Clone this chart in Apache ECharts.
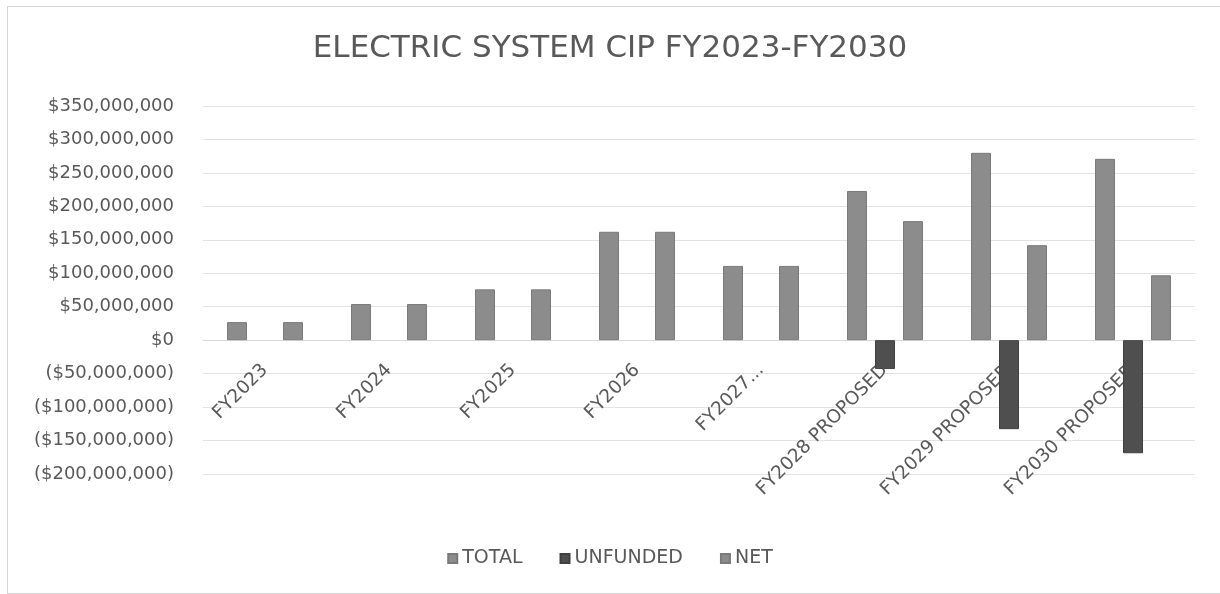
<!DOCTYPE html>
<html>
<head>
<meta charset="utf-8">
<script src="https://cdn.jsdelivr.net/npm/echarts@6/dist/echarts.min.js"></script>
<style>
html,body{margin:0;padding:0;background:#fff;overflow:hidden;}
#chart{position:absolute;left:0;top:0;width:1220px;height:594px;}
#frame{position:absolute;left:7px;top:6px;width:1240px;height:586px;border:1px solid #d4d4d4;pointer-events:none;}
</style>
</head>
<body>
<div id="chart"></div>
<div id="frame"></div>
<script>
const categories = ["FY2023","FY2024","FY2025","FY2026","FY2027...","FY2028 PROPOSED","FY2029 PROPOSED","FY2030 PROPOSED"];
const totalValues = [27000000, 54000000, 76000000, 162000000, 111000000, 223000000, 280000000, 271000000];
const unfundedValues = [null, null, null, null, null, -43000000, -133000000, -169000000];
const netValues = [27000000, 54000000, 76000000, 162000000, 111000000, 178000000, 142000000, 97000000];
const seriesNames = ["TOTAL","UNFUNDED","NET"];
const chartTitle = "ELECTRIC SYSTEM CIP FY2023-FY2030";
const yMin = -200000000, yMax = 350000000, yStep = 50000000;

function fmt(v){
  const s = '$' + Math.abs(v).toLocaleString('en-US');
  if (v < 0) return '(' + s + ')';
  return s;
}

const FONT = 'DejaVu Sans';
const gridTop = 106, gridBottom = 120;
const plotH = 594 - gridTop - gridBottom;
const zeroOffset = -plotH * (0 - yMin) / (yMax - yMin);

const chart = echarts.init(document.getElementById('chart'));
chart.setOption({
  animation:false,
  backgroundColor:'#ffffff',
  title:{
    text: chartTitle,
    left:'center',
    top:28,
    textStyle:{fontFamily:FONT,fontSize:31,fontWeight:'normal',color:'#595959'}
  },
  legend:{
    bottom:21,
    left:'center',
    icon:'rect',
    itemWidth:9,
    itemHeight:9,
    itemGap:37,
    textStyle:{fontFamily:FONT,fontSize:19,color:'#595959'},
    data: seriesNames
  },
  grid:{left:203,right:25,top:gridTop,bottom:gridBottom,containLabel:false,outerBoundsMode:'none'},
  xAxis:{
    type:'category',
    data:categories,
    offset: zeroOffset,
    axisLine:{onZero:false,lineStyle:{color:'#d9d9d9',width:1}},
    axisTick:{show:false},
    axisLabel:{rotate:45,margin:27,interval:0,fontFamily:FONT,fontSize:18.5,color:'#595959'},
    splitLine:{show:false}
  },
  yAxis:{
    type:'value',
    min:yMin,
    max:yMax,
    interval:yStep,
    axisLine:{show:false},
    axisTick:{show:false},
    axisLabel:{formatter:fmt,margin:29,fontFamily:FONT,fontSize:18,color:'#595959'},
    splitLine:{lineStyle:{color:'#e3e3e3',width:1}}
  },
  series:[
    {name:seriesNames[0],type:'bar',data:totalValues,barWidth:20,barGap:'40%',
     itemStyle:{color:'#8c8c8c',borderColor:'#7a7a7a',borderWidth:1}},
    {name:seriesNames[1],type:'bar',data:unfundedValues,barWidth:20,barGap:'40%',
     itemStyle:{color:'#4f4f4f',borderColor:'#404040',borderWidth:1}},
    {name:seriesNames[2],type:'bar',data:netValues,barWidth:20,barGap:'40%',
     itemStyle:{color:'#8c8c8c',borderColor:'#7a7a7a',borderWidth:1}}
  ]
});
</script>
</body>
</html>
